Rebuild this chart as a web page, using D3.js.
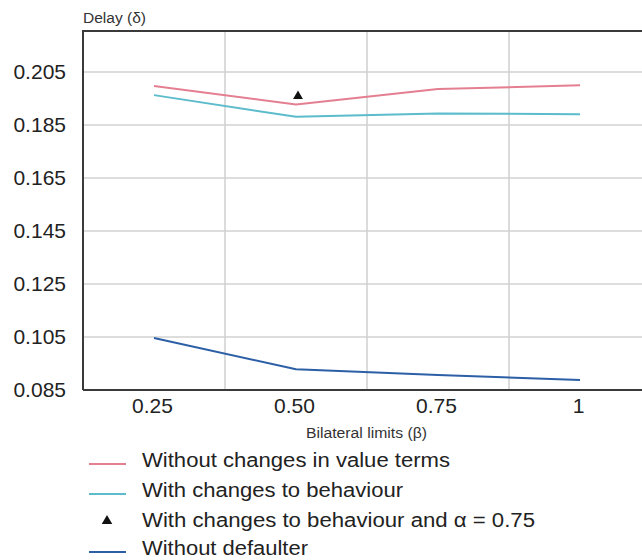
<!DOCTYPE html>
<html>
<head>
<meta charset="utf-8">
<script src="https://cdn.jsdelivr.net/npm/d3@7"></script>
<style>
  html, body { margin: 0; padding: 0; background: #fff; }
  svg { display: block; font-family: "Liberation Sans", Arial, Helvetica, sans-serif; }
</style>
</head>
<body>
<svg id="chart" width="642" height="560"></svg>
<script>
// ---- data ----
const categories = ["0.25", "0.50", "0.75", "1"];
const withoutChangesValueTerms = [0.1997, 0.1928, 0.1986, 0.2000];
const withChangesBehaviour = [0.1963, 0.1881, 0.1894, 0.1891];
const alphaPointCategory = ["0.50"];
const alphaPointValue = [0.1959];
const withoutDefaulter = [0.1046, 0.0928, 0.0907, 0.0888];
const yTicks = [0.085, 0.105, 0.125, 0.145, 0.165, 0.185, 0.205];
const yTitle = "Delay (δ)";
const xTitle = "Bilateral limits (β)";
const legendLabels = [
  "Without changes in value terms",
  "With changes to behaviour",
  "With changes to behaviour and α = 0.75",
  "Without defaulter"
];

// ---- layout ----
const svg = d3.select("#chart");
const plotLeft = 83, plotTop = 31, plotBottom = 390, plotRight = 651;
const colors = { pink: "#e47f92", teal: "#5cbccb", blue: "#2c5fa6" };

const x = d3.scalePoint().domain(categories).range([plotLeft, plotRight]).padding(0.5);
const y = d3.scaleLinear().domain([0.085, 0.2205]).range([plotBottom, plotTop]);
const step = x.step();

// horizontal grid
svg.append("g").selectAll("line").data(yTicks.slice(1)).join("line")
  .attr("x1", plotLeft).attr("x2", 642)
  .attr("y1", d => y(d)).attr("y2", d => y(d))
  .attr("stroke", "#d2d2d2").attr("stroke-width", 1.5);

// vertical grid (between categories)
svg.append("g").selectAll("line").data(categories.slice(0, 3)).join("line")
  .attr("x1", d => x(d) + step / 2).attr("x2", d => x(d) + step / 2)
  .attr("y1", plotTop).attr("y2", plotBottom)
  .attr("stroke", "#cfcfcf").attr("stroke-width", 1.5);

// frame
svg.append("path")
  .attr("d", `M${plotLeft},${plotBottom} L${plotLeft},${plotTop} L642,${plotTop}`)
  .attr("fill", "none").attr("stroke", "#3a3a3a").attr("stroke-width", 2);
svg.append("line")
  .attr("x1", plotLeft).attr("x2", 642).attr("y1", plotBottom).attr("y2", plotBottom)
  .attr("stroke", "#3a3a3a").attr("stroke-width", 2);

// y axis labels
const yAxis = d3.axisLeft(y).tickValues(yTicks).tickFormat(d3.format(".3f")).tickSize(0).tickPadding(17);
const gy = svg.append("g").attr("transform", `translate(${plotLeft},0)`).call(yAxis);
gy.select(".domain").remove();
gy.selectAll("text").attr("font-size", 21).attr("fill", "#222")
  .attr("font-family", "Liberation Sans, Arial, sans-serif");

// x axis labels
const xAxis = d3.axisBottom(x).tickSize(0).tickPadding(8);
const gx = svg.append("g").attr("transform", `translate(-2,${plotBottom})`).call(xAxis);
gx.select(".domain").remove();
gx.selectAll("text").attr("font-size", 21).attr("fill", "#222")
  .attr("font-family", "Liberation Sans, Arial, sans-serif");

// titles
svg.append("text").attr("x", plotLeft).attr("y", 22.5)
  .attr("font-size", 14).attr("fill", "#333")
  .attr("textLength", 63).attr("lengthAdjust", "spacingAndGlyphs")
  .text(yTitle);
svg.append("text").attr("x", 306).attr("y", 438)
  .attr("font-size", 14).attr("fill", "#333")
  .attr("textLength", 121).attr("lengthAdjust", "spacingAndGlyphs")
  .text(xTitle);

// lines
const line = d3.line().x((d, i) => x(categories[i])).y(d => y(d));
[[withoutChangesValueTerms, colors.pink], [withChangesBehaviour, colors.teal], [withoutDefaulter, colors.blue]]
  .forEach(([vals, c]) => {
    svg.append("path").datum(vals).attr("d", line)
      .attr("fill", "none").attr("stroke", c).attr("stroke-width", 2)
      .attr("stroke-linejoin", "round");
  });

// triangle point
const tri = d3.symbol().type(d3.symbolTriangle).size(42);
svg.append("g").selectAll("path").data(alphaPointValue).join("path")
  .attr("d", tri)
  .attr("transform", (d, i) => `translate(${x(alphaPointCategory[i]) + 2},${y(d)})`)
  .attr("fill", "#111");

// legend
const legendY = [467, 497, 527, 555];
const legendW = [308, 261, 393, 166];
const legendKinds = [["line", colors.pink], ["line", colors.teal], ["tri", "#111"], ["line", colors.blue]];
const lg = svg.append("g");
legendLabels.forEach((lab, i) => {
  const by = legendY[i];
  const [kind, c] = legendKinds[i];
  if (kind === "line") {
    lg.append("line").attr("x1", 89).attr("x2", 126).attr("y1", by - 3).attr("y2", by - 3)
      .attr("stroke", c).attr("stroke-width", 1.8);
  } else {
    lg.append("path").attr("d", d3.symbol().type(d3.symbolTriangle).size(48))
      .attr("transform", `translate(107,${by - 6})`).attr("fill", c);
  }
  lg.append("text").attr("x", 142).attr("y", by)
    .attr("font-size", 20).attr("fill", "#222")
    .attr("textLength", legendW[i]).attr("lengthAdjust", "spacingAndGlyphs")
    .text(lab);
});
</script>
</body>
</html>
